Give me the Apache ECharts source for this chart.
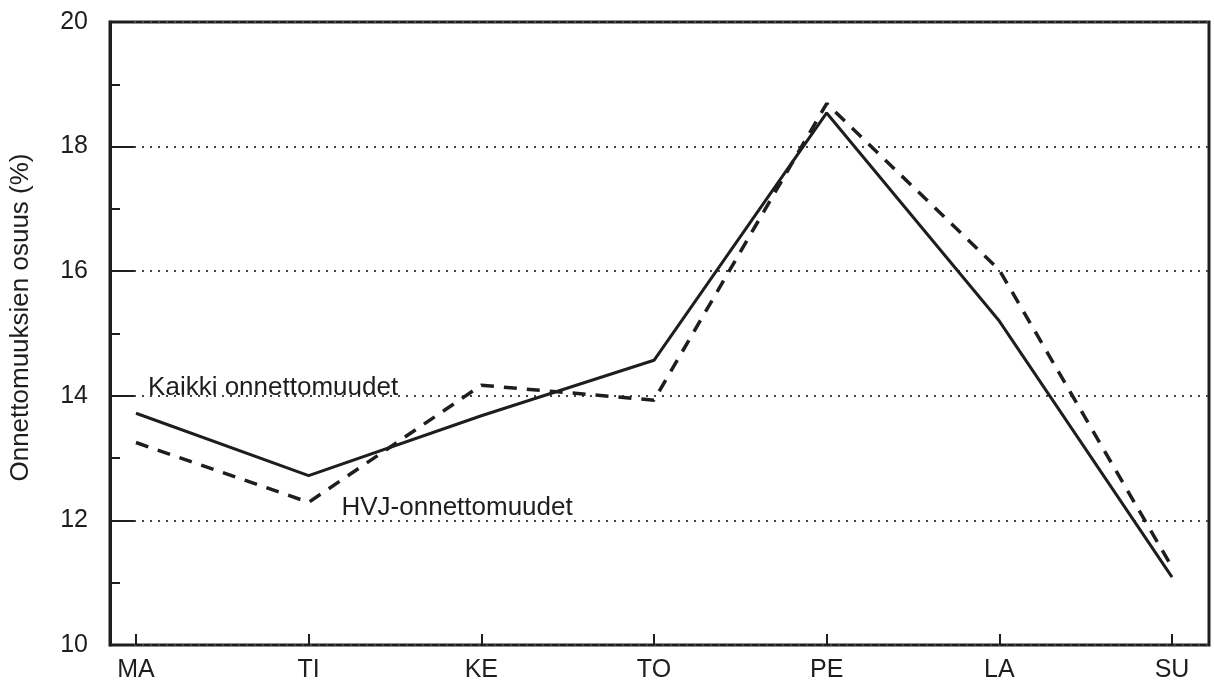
<!DOCTYPE html>
<html>
<head>
<meta charset="utf-8">
<script src="https://cdn.jsdelivr.net/npm/echarts@6/dist/echarts.min.js"></script>
<style>
html,body{margin:0;padding:0;background:#fff;}
#chart{width:1214px;height:698px;}
</style>
</head>
<body>
<div id="chart"></div>
<script>
const days = ['MA', 'TI', 'KE', 'TO', 'PE', 'LA', 'SU'];
const kaikki = [13.72, 12.72, 13.68, 14.57, 18.54, 15.2, 11.09];
const hvj = [13.25, 12.29, 14.17, 13.93, 18.69, 16.02, 11.25];
const yTicks = [10, 12, 14, 16, 18, 20];
const seriesNames = ['Kaikki onnettomuudet', 'HVJ-onnettomuudet'];
const labelPos = { kaikki: [0.07, 14.13], hvj: [1.19, 12.2] };

const ink = '#1e1e1e';
const font = 'Liberation Sans, Arial, sans-serif';
const chart = echarts.init(document.getElementById('chart'));

function pairs(arr) { return arr.map((v, i) => [i, v]); }

chart.setOption({
  backgroundColor: '#ffffff',
  animation: false,
  grid: [
    { left: 106, right: 5, top: 22, bottom: 53, show: true, borderColor: ink, borderWidth: 3, backgroundColor: 'transparent' },
    { left: 136, right: 42, top: 22, bottom: 53 }
  ],
  xAxis: [
    { gridIndex: 0, type: 'value', min: 0, max: 1, show: false },
    {
      gridIndex: 1, type: 'value', min: 0, max: days.length - 1, interval: 1,
      axisLine: { show: false, onZero: false },
      axisTick: { show: true, inside: true, length: 11, lineStyle: { color: ink, width: 2 } },
      axisLabel: { formatter: v => days[Math.round(v)], color: ink, fontFamily: font, fontSize: 25, margin: 13 },
      splitLine: { show: false }
    }
  ],
  yAxis: [
    {
      gridIndex: 0, type: 'value', min: 10, max: 20, interval: 2,
      name: 'Onnettomuuksien osuus (%)',
      nameLocation: 'middle', nameRotate: 90, nameGap: 76,
      nameTextStyle: { color: ink, fontFamily: font, fontSize: 26, padding: [0, 0, 0, 32] },
      axisLine: { show: true, onZero: false, lineStyle: { color: ink, width: 3 } },
      axisTick: { show: true, inside: true, length: 24, lineStyle: { color: ink, width: 2 } },
      minorTick: { show: true, splitNumber: 2, length: 10, lineStyle: { color: ink, width: 2 } },
      axisLabel: {
        formatter: v => (yTicks.includes(v) ? String(v) : ''),
        color: ink, fontFamily: font, fontSize: 25, margin: 22
      },
      splitLine: { show: true, lineStyle: { color: '#444', width: 2, type: [2, 6] } }
    },
    { gridIndex: 1, type: 'value', min: 10, max: 20, show: false }
  ],
  series: [
    {
      name: seriesNames[0], type: 'line', xAxisIndex: 1, yAxisIndex: 1,
      data: pairs(kaikki), symbol: 'none',
      lineStyle: { color: ink, width: 3 }, z: 3,
      markPoint: {
        symbol: 'circle', symbolSize: 0,
        data: [{ coord: labelPos.kaikki, value: seriesNames[0] }],
        label: {
          show: true, position: [0, 0], align: 'left', verticalAlign: 'middle',
          formatter: seriesNames[0], color: ink, fontFamily: font, fontSize: 26
        }
      }
    },
    {
      name: seriesNames[1], type: 'line', xAxisIndex: 1, yAxisIndex: 1,
      data: pairs(hvj), symbol: 'none',
      lineStyle: { color: ink, width: 3.5, type: [13, 10] }, z: 2,
      markPoint: {
        symbol: 'circle', symbolSize: 0,
        data: [{ coord: labelPos.hvj, value: seriesNames[1] }],
        label: {
          show: true, position: [0, 0], align: 'left', verticalAlign: 'middle',
          formatter: seriesNames[1], color: ink, fontFamily: font, fontSize: 26
        }
      }
    }
  ]
});
</script>
</body>
</html>
